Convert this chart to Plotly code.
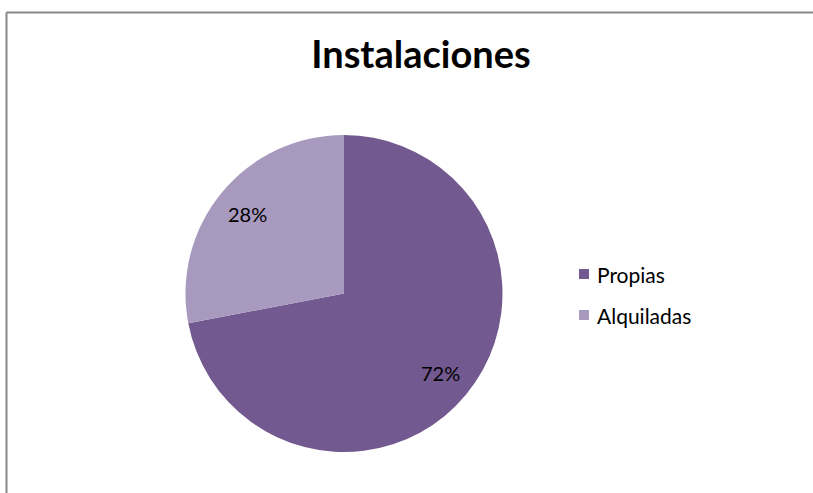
import math
import plotly.graph_objects as go

# Facility ownership breakdown
categories = ["Propias", "Alquiladas"]
shares = [72, 28]
slice_colors = ["#72598F", "#A899BE"]

W, H = 813, 493
cx, cy, r = 344, 293.5, 158.5  # pie centre and radius in px (y from top)
label_radius = 0.79 * r

fig = go.Figure(
    go.Pie(
        labels=categories,
        values=shares,
        sort=False,
        direction="clockwise",
        rotation=0,
        marker=dict(colors=slice_colors, line=dict(width=0)),
        textinfo="none",
        hoverinfo="label+percent",
        showlegend=False,
        domain=dict(
            x=[(cx - r) / W, (cx + r) / W],
            y=[(H - cy - r) / H, (H - cy + r) / H],
        ),
    )
)

annotations = []

# Percentage labels placed along each slice's bisector
total = sum(shares)
start = 0.0
for value in shares:
    mid = (start + value / 2) / total * 2 * math.pi  # clockwise from 12 o'clock
    px = cx + label_radius * math.sin(mid)
    py = cy - label_radius * math.cos(mid)
    annotations.append(dict(
        x=px / W, y=1 - py / H, xref="paper", yref="paper",
        text=f"{round(value / total * 100)}%", showarrow=False,
        xanchor="center", yanchor="middle",
        font=dict(family="Lato", size=20, color="#000000"),
    ))
    start += value

# Legend drawn as coloured squares with text beside them
legend_x, legend_y0, legend_step = 584, 274, 41
shapes = []
for i, (name, color) in enumerate(zip(categories, slice_colors)):
    yc = legend_y0 + i * legend_step
    shapes.append(dict(
        type="rect", xref="paper", yref="paper",
        x0=(legend_x - 5) / W, x1=(legend_x + 5) / W,
        y0=1 - (yc + 5) / H, y1=1 - (yc - 5) / H,
        fillcolor=color, line=dict(width=0),
    ))
    annotations.append(dict(
        x=(legend_x + 11) / W, y=1 - yc / H, xref="paper", yref="paper",
        text=name, showarrow=False, xanchor="left", yanchor="middle",
        font=dict(family="Lato", size=21, color="#000000"),
    ))

# Chart border (top and left edges)
shapes += [
    dict(type="line", xref="paper", yref="paper",
         x0=6.5 / W, x1=1.0, y0=1 - 12.5 / H, y1=1 - 12.5 / H,
         line=dict(color="#878787", width=2)),
    dict(type="line", xref="paper", yref="paper",
         x0=6.5 / W, x1=6.5 / W, y0=0.0, y1=1 - 12.5 / H,
         line=dict(color="#878787", width=2)),
]

fig.update_layout(
    width=W,
    height=H,
    margin=dict(l=0, r=0, t=0, b=0),
    paper_bgcolor="white",
    plot_bgcolor="white",
    title=dict(
        text="<b>Instalaciones</b>",
        x=421 / W,
        xanchor="center",
        y=1 - 55 / H,
        yanchor="middle",
        font=dict(family="Lato", size=38, color="#000000"),
    ),
    annotations=annotations,
    shapes=shapes,
)

fig.write_html("out.html")
